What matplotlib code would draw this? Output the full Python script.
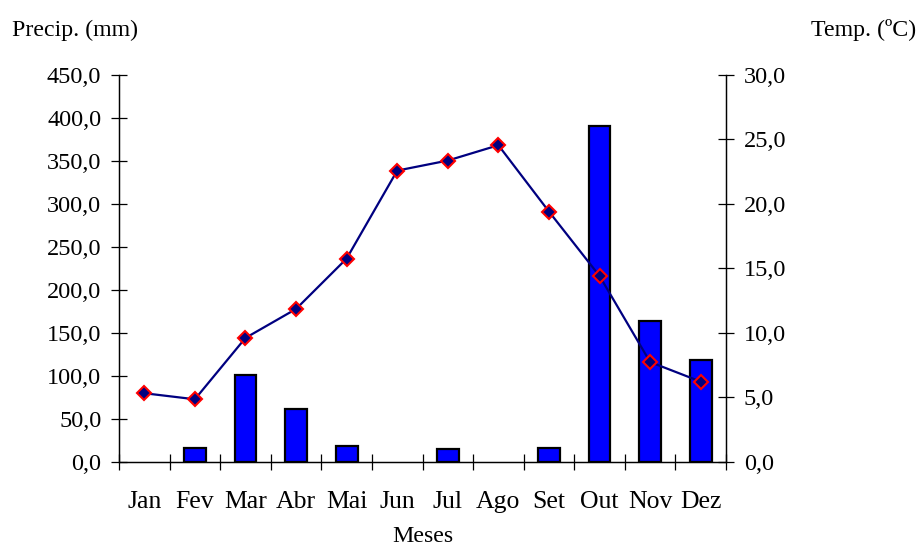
import matplotlib
matplotlib.use("Agg")
import matplotlib.pyplot as plt
import numpy as np
from matplotlib.ticker import FixedLocator, FuncFormatter

months = ["Jan", "Fev", "Mar", "Abr", "Mai", "Jun", "Jul", "Ago", "Set", "Out", "Nov", "Dez"]
precip = [0.0, 16.1, 100.4, 61.5, 18.4, 0.0, 14.2, 0.0, 16.1, 391.0, 164.0, 118.0]
temp = [5.3, 4.83, 9.59, 11.84, 15.75, 22.58, 23.36, 24.55, 19.4, 14.4, 7.72, 6.2]
precip_ticks = [0, 50, 100, 150, 200, 250, 300, 350, 400, 450]
temp_ticks = [0, 5, 10, 15, 20, 25, 30]

plt.rcParams['font.family'] = ['Liberation Serif', 'DejaVu Serif']
FS_Y = 17.5
FS_X = 18.5
FS_T = 17.2

fig = plt.figure(figsize=(9.21, 5.47), dpi=100)
L, R = 119 / 921, 726 / 921
B, T = (547 - 461.5) / 547, (547 - 75) / 547
ax = fig.add_axes([L, B, R - L, T - B])
ax2 = ax.twinx()

x = np.arange(len(months))
edges = ["black" if v > 0 else "none" for v in precip]
ax.bar(x, precip, width=0.43, color="#0000FF", edgecolor=edges, linewidth=1.6, zorder=2)
ax.set_xlim(-0.5, len(months) - 0.5)
ax.set_ylim(0, 450)
ax2.set_ylim(0, 30)

ax2.plot(x, temp, color="#000080", linewidth=1.6, marker="D", markersize=7.5,
         markerfacecolor="#000080", markeredgecolor="#FF0000", markeredgewidth=1.5, zorder=3)

comma = FuncFormatter(lambda v, p: f"{v:.1f}".replace(".", ","))
ax.yaxis.set_major_locator(FixedLocator(precip_ticks))
ax.yaxis.set_major_formatter(comma)
ax2.yaxis.set_major_locator(FixedLocator(temp_ticks))
ax2.yaxis.set_major_formatter(comma)

ax.set_xticks(x)
ax.set_xticklabels(months)
ax.xaxis.set_minor_locator(FixedLocator(np.arange(-0.5, len(months) + 0.5, 1.0)))
ax.tick_params(axis="x", which="major", length=0, pad=21, labelsize=FS_X)
ax.tick_params(axis="x", which="minor", direction="inout", length=11, width=0.9)
ax.tick_params(axis="y", direction="inout", length=11.5, width=0.9, pad=7, labelsize=FS_Y)
ax2.tick_params(axis="y", direction="inout", length=11.5, width=0.9, pad=7, labelsize=FS_Y)

for a in (ax, ax2):
    a.spines["top"].set_visible(False)
    for s in ("left", "right", "bottom"):
        a.spines[s].set_linewidth(0.9)

fig.text(12 / 921, 1 - 30 / 547, "Precip. (mm)", fontsize=FS_T, ha="left", va="center")
fig.text(916 / 921, 1 - 30 / 547, "Temp. (ºC)", fontsize=FS_T, ha="right", va="center")
fig.text(422.5 / 921, 1 - 537 / 547, "Meses", fontsize=FS_T, ha="center", va="center")

fig.savefig("out.png", dpi=100)
